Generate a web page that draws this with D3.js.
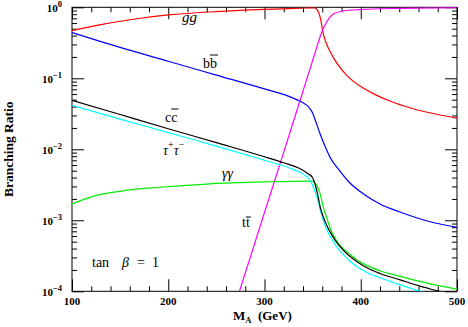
<!DOCTYPE html>
<html>
<head>
<meta charset="utf-8">
<script src="https://cdn.jsdelivr.net/npm/d3@7.9.0/dist/d3.min.js"></script>
<style>
  body { margin: 0; background: #fff; }
  svg { display: block; }
  text { font-family: "Liberation Serif", "Times New Roman", serif; fill: #000; }
</style>
</head>
<body>
<svg id="chart" width="468" height="327"></svg>
<script>
// branching ratios of A, tan beta = 1
const ggMass = [100, 130, 160, 200, 250, 300, 326, 345, 352, 355, 358, 361, 364, 368, 372, 378, 385, 393, 403, 415, 430, 445, 460, 480, 500];
const ggBR   = [0.468, 0.569, 0.668, 0.780, 0.871, 0.933, 0.959, 0.977, 0.982, 0.912, 0.708, 0.427, 0.316, 0.240, 0.191, 0.145, 0.112, 0.0891, 0.0724, 0.0589, 0.0479, 0.0407, 0.0355, 0.0309, 0.0275];

const bbMass = [100, 150, 200, 250, 300, 330, 340, 345.5, 350, 352.5, 357.7, 364.6, 368, 378, 387, 404, 420, 440, 472, 500];
const bbBR   = [0.440, 0.272, 0.174, 0.111, 0.0708, 0.0525, 0.0452, 0.0398, 0.0324, 0.0263, 0.0166, 0.00977, 0.00776, 0.00501, 0.00355, 0.00229, 0.00170, 0.00132, 0.000955, 0.000794];

const ccMass = [100, 150, 200, 250, 300, 320, 335, 345, 350, 355, 358, 361, 365, 368, 371.5, 376, 381, 389, 397, 406, 420, 441, 460, 479, 500];
const ccBR   = [0.0490, 0.0309, 0.0195, 0.0124, 0.00785, 0.00646, 0.00550, 0.00457, 0.00398, 0.00240, 0.00151, 0.00112, 0.000832, 0.000692, 0.000575, 0.000468, 0.000389, 0.000309, 0.000257, 0.000216, 0.000178, 0.000145, 0.000120, 0.000102, 0.0000851];

const tauMass = [100, 150, 200, 250, 300, 325, 340, 347, 351, 355, 358, 361, 365, 368, 371.5, 376, 381, 389, 397, 406, 420, 441, 460, 500];
const tauBR   = [0.0417, 0.0266, 0.0172, 0.0111, 0.00700, 0.00550, 0.00447, 0.00372, 0.00288, 0.00200, 0.00138, 0.00100, 0.000724, 0.000603, 0.000501, 0.000407, 0.000339, 0.000263, 0.000219, 0.000186, 0.000155, 0.000123, 0.000102, 0.0000708];

const aaMass = [100, 120, 140, 160, 190, 240, 300, 345, 351, 354, 357.7, 361, 365, 368, 371.5, 376, 381, 389, 397, 406, 420, 441, 470, 500];
const aaBR   = [0.00170, 0.00214, 0.00245, 0.00269, 0.00292, 0.00324, 0.00347, 0.00357, 0.00351, 0.00316, 0.00240, 0.00155, 0.00105, 0.000794, 0.000617, 0.000490, 0.000407, 0.000331, 0.000272, 0.000232, 0.000195, 0.000162, 0.000129, 0.000107];

const ttMass = [270, 300, 320, 340, 350, 356, 359.4, 364.6, 371.2, 381.6, 399, 441, 500];
const ttBR   = [0.0000676, 0.00129, 0.00912, 0.0661, 0.178, 0.324, 0.447, 0.621, 0.796, 0.887, 0.929, 0.968, 0.991];

const xMajor = [100, 200, 300, 400, 500];
const yMajor = [1e-4, 1e-3, 1e-2, 1e-1, 1];

const svg = d3.select("#chart");
const pl = 72, pr = 457, pt = 7.3, pb = 291.3;

const x = d3.scaleLinear().domain([100, 500]).range([pl, pr]);
const y = d3.scaleLog().domain([1e-4, 1]).range([pb, pt]);

const xMinor = d3.range(100, 501, 20).filter(v => !xMajor.includes(v));
const yMinor = [];
yMajor.slice(0, -1).forEach(d => { for (let k = 2; k <= 9; k++) yMinor.push(d * k); });

svg.append("clipPath").attr("id", "clip")
  .append("rect").attr("x", pl).attr("y", pt)
  .attr("width", pr - pl).attr("height", pb - pt);

// ticks, all pointing inward
function ticks(axis, vals, size) {
  return axis.tickValues(vals).tickSize(-size).tickFormat("");
}
const axes = [
  [() => d3.axisBottom(x), `translate(0,${pb})`, xMajor, xMinor],
  [() => d3.axisTop(x), `translate(0,${pt})`, xMajor, xMinor],
  [() => d3.axisLeft(y), `translate(${pl},0)`, yMajor, yMinor],
  [() => d3.axisRight(y), `translate(${pr},0)`, yMajor, yMinor]
];
axes.forEach(([mk, tr, maj, min]) => {
  svg.append("g").attr("transform", tr).call(ticks(mk(), maj, 12));
  svg.append("g").attr("transform", tr).call(ticks(mk(), min, 5));
});
svg.selectAll(".domain").remove();
svg.selectAll(".tick line").attr("stroke", "#000").attr("stroke-width", 1);

svg.append("rect")
  .attr("x", pl).attr("y", pt)
  .attr("width", pr - pl).attr("height", pb - pt)
  .attr("fill", "none").attr("stroke", "#000").attr("stroke-width", 1);

// tick labels
svg.append("g").selectAll("text").data(xMajor).join("text")
  .attr("x", d => x(d)).attr("y", pb + 14)
  .attr("text-anchor", "middle")
  .attr("font-size", 11).attr("font-weight", "bold")
  .text(d => d);

yMajor.forEach(d => {
  const e = Math.round(Math.log10(d));
  const t = svg.append("text")
    .attr("x", pl - 10).attr("y", y(d) + 4.5)
    .attr("text-anchor", "end")
    .attr("font-size", 11).attr("font-weight", "bold");
  t.append("tspan").text("10");
  t.append("tspan").attr("dy", -5).attr("font-size", 8.5)
    .text(e === 0 ? "0" : "\u2212" + (-e));
});

// axis titles
svg.append("text")
  .attr("transform", `translate(13,${(pt + pb) / 2}) rotate(-90)`)
  .attr("text-anchor", "middle")
  .attr("font-size", 13.5).attr("font-weight", "bold")
  .text("Branching Ratio");

const xt = svg.append("text")
  .attr("x", 233).attr("y", 320)
  .attr("font-size", 13).attr("font-weight", "bold");
xt.append("tspan").text("M");
xt.append("tspan").attr("dy", 2.5).attr("font-size", 8.5).text("A");
xt.append("tspan").attr("dy", -2.5).text("\u2002(GeV)");

// curves
const line = d3.line()
  .x(d => x(d[0]))
  .y(d => y(d[1]))
  .curve(d3.curveMonotoneX);

const series = [
  [ggMass, ggBR, "#ff0000"],
  [bbMass, bbBR, "#0000ff"],
  [ttMass, ttBR, "#ff00ff"],
  [aaMass, aaBR, "#00ee00"],
  [tauMass, tauBR, "#00ffff"],
  [ccMass, ccBR, "#000000"]
];
const plot = svg.append("g").attr("clip-path", "url(#clip)");
series.forEach(([m, br, col]) => {
  plot.append("path")
    .datum(d3.zip(m, br))
    .attr("fill", "none")
    .attr("stroke", col)
    .attr("stroke-width", 1.2)
    .attr("d", line);
});

// curve labels
function barLabel(px, py, first, barred, size, lift) {
  const a = svg.append("text").attr("x", px).attr("y", py).attr("font-size", size).text(first);
  const w1 = a.node().getComputedTextLength();
  const b = svg.append("text").attr("x", px + w1).attr("y", py).attr("font-size", size).text(barred);
  const w2 = b.node().getComputedTextLength();
  svg.append("line")
    .attr("x1", px + w1).attr("x2", px + w1 + w2 + 1)
    .attr("y1", py - lift).attr("y2", py - lift)
    .attr("stroke", "#000").attr("stroke-width", 1);
}

svg.append("text").attr("x", 182).attr("y", 22)
  .attr("font-size", 15).attr("font-style", "italic").text("gg");
barLabel(203, 68, "b", "b", 14, 13);
barLabel(165, 121.5, "c", "c", 14, 12.5);
barLabel(242, 226.5, "t", "t", 14, 9.5);

const tau = svg.append("text").attr("x", 163).attr("y", 155)
  .attr("font-size", 14).attr("font-style", "italic");
tau.append("tspan").text("\u03c4");
tau.append("tspan").attr("dy", -7).attr("font-size", 10).attr("font-style", "normal").text("+");
tau.append("tspan").attr("dy", 7).text("\u03c4");
tau.append("tspan").attr("dy", -7).attr("font-size", 10).attr("font-style", "normal").text("\u2212");

svg.append("text").attr("x", 222).attr("y", 178)
  .attr("font-size", 14).attr("font-style", "italic").text("\u03b3\u03b3");

const tb = svg.append("g").attr("font-size", 14);
tb.append("text").attr("x", 92).attr("y", 267).text("tan");
tb.append("text").attr("x", 122).attr("y", 267).attr("font-style", "italic").text("\u03b2");
tb.append("text").attr("x", 137).attr("y", 267).text("=");
tb.append("text").attr("x", 152).attr("y", 267).text("1");
</script>
</body>
</html>
